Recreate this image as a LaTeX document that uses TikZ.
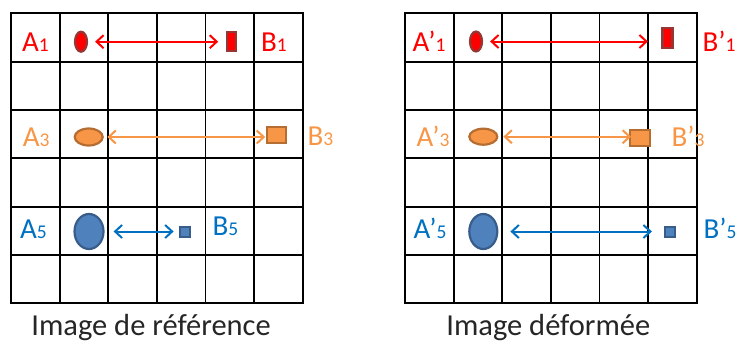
\documentclass[tikz,border=0pt]{standalone}
\usepackage{fontspec}
\setmainfont{Carlito}
\usetikzlibrary{arrows.meta,shapes.geometric}
\definecolor{cred}{HTML}{FF0000}
\definecolor{credd}{HTML}{953735}
\definecolor{corg}{HTML}{F79646}
\definecolor{corgd}{HTML}{B66D31}
\definecolor{cblu}{HTML}{4F81BD}
\definecolor{cblud}{HTML}{385D8A}
\definecolor{cblut}{HTML}{0070C0}
\newcommand\lblsub[1]{{\fontsize{19.5pt}{19.5pt}\selectfont #1}}
\tikzset{
  gridline/.style={line width=1.8pt, black},
  lbl/.style={inner sep=0pt, anchor=base west, font=\fontsize{29pt}{29pt}\selectfont},
  captext/.style={inner sep=0pt, anchor=base west, font=\fontsize{30.5pt}{30.5pt}\selectfont, text=black!85},
  ell/.style={ellipse, inner sep=0pt, line width=2.2pt},
  box/.style={rectangle, inner sep=0pt, line width=2.2pt},
  arr/.style={{Straight Barb[length=7pt,width=13pt,line width=2pt]}-{Straight Barb[length=7pt,width=13pt,line width=2pt]}, line width=2pt},
}
\begin{document}
\begin{tikzpicture}[x=1pt,y=-1pt]
\useasboundingbox (0,0) rectangle (738,343);
% grids
\foreach \gx in {11,405}{
  \foreach \i in {0,...,6}{
    \draw[gridline] ({\gx+48.6*\i},13.3) -- ({\gx+48.6*\i},303.3);
    \draw[gridline] (\gx-0.9,{13.3+48.33*\i}) -- ({\gx+291.6+0.9},{13.3+48.33*\i});
  }
}
% ---------- left image ----------
\node[lbl, text=cred] (la1) at (22,51.7) {A\lblsub{1}};
\node[lbl, text=cred] (lb1) at (261,51.7) {B\lblsub{1}};
\node[ell, fill=cred, draw=credd, minimum width=12pt, minimum height=20pt] (le1) at (81,41.7) {};
\node[box, fill=cred, draw=credd, minimum width=9pt, minimum height=19pt] (lr1) at (231.3,41.7) {};
\draw[arr, cred] (le1.east) -- (le1.east -| lr1.west) [shorten <=7pt, shorten >=7.5pt];

\node[lbl, text=corg] (la3) at (22.7,146.5) {A\lblsub{3}};
\node[lbl, text=corg] (lb3) at (307.5,145.5) {B\lblsub{3}};
\node[ell, fill=corg, draw=corgd, minimum width=28pt, minimum height=17pt] (le3) at (88.7,137) {};
\node[box, fill=corg, draw=corgd, minimum width=19pt, minimum height=16pt] (lr3) at (276.3,134.7) {};
\draw[arr, corg] (le3.east) -- (le3.east -| lr3.west) [shorten <=3.5pt, shorten >=0.5pt];

\node[lbl, text=cblut] (la5) at (20,238) {A\lblsub{5}};
\node[lbl, text=cblut] (lb5) at (212.5,235.5) {B\lblsub{5}};
\node[ell, fill=cblu, draw=cblud, minimum width=29pt, minimum height=35pt] (le5) at (89,231.5) {};
\node[box, fill=cblu, draw=cblud, minimum width=10pt, minimum height=10pt] (lr5) at (185.2,231.8) {};
\draw[arr, cblut] (le5.east) -- (le5.east -| lr5.west) [shorten <=9pt, shorten >=5.5pt];

\node[captext] (lcap) at (31.2,335.3) {Image de référence};

% ---------- right image ----------
\node[lbl, text=cred] (ra1) at (412.5,51.7) {A’\lblsub{1}};
\node[lbl, text=cred] (rb1) at (702.5,51.7) {B’\lblsub{1}};
\node[ell, fill=cred, draw=credd, minimum width=12pt, minimum height=20pt] (re1) at (476,41.5) {};
\node[box, fill=cred, draw=credd, minimum width=10pt, minimum height=20pt] (rr1) at (667.5,38.2) {};
\draw[arr, cred] (re1.east) -- (re1.east -| rr1.west) [shorten <=7pt, shorten >=13.5pt];

\node[lbl, text=corg] (ra3) at (416.5,146.5) {A’\lblsub{3}};
\node[lbl, text=corg] (rb3) at (671.5,146.5) {B’\lblsub{3}};
\node[ell, fill=corg, draw=corgd, minimum width=28pt, minimum height=16pt] (re3) at (483.3,136.7) {};
\node[box, fill=corg, draw=corgd, minimum width=20pt, minimum height=16pt] (rr3) at (640.2,138) {};
\draw[arr, corg] (re3.east) -- (re3.east -| rr3.west) [shorten <=5pt, shorten >=-2pt];

\node[lbl, text=cblut] (ra5) at (413.5,238) {A’\lblsub{5}};
\node[lbl, text=cblut] (rb5) at (703.5,238) {B’\lblsub{5}};
\node[ell, fill=cblu, draw=cblud, minimum width=28pt, minimum height=35pt] (re5) at (483.3,231.5) {};
\node[box, fill=cblu, draw=cblud, minimum width=10pt, minimum height=10pt] (rr5) at (670,232) {};
\draw[arr, cblut] (re5.east) -- (re5.east -| rr5.west) [shorten <=12pt, shorten >=12pt];

\node[captext] (rcap) at (446.2,335.3) {Image déformée};
\end{tikzpicture}
\end{document}
